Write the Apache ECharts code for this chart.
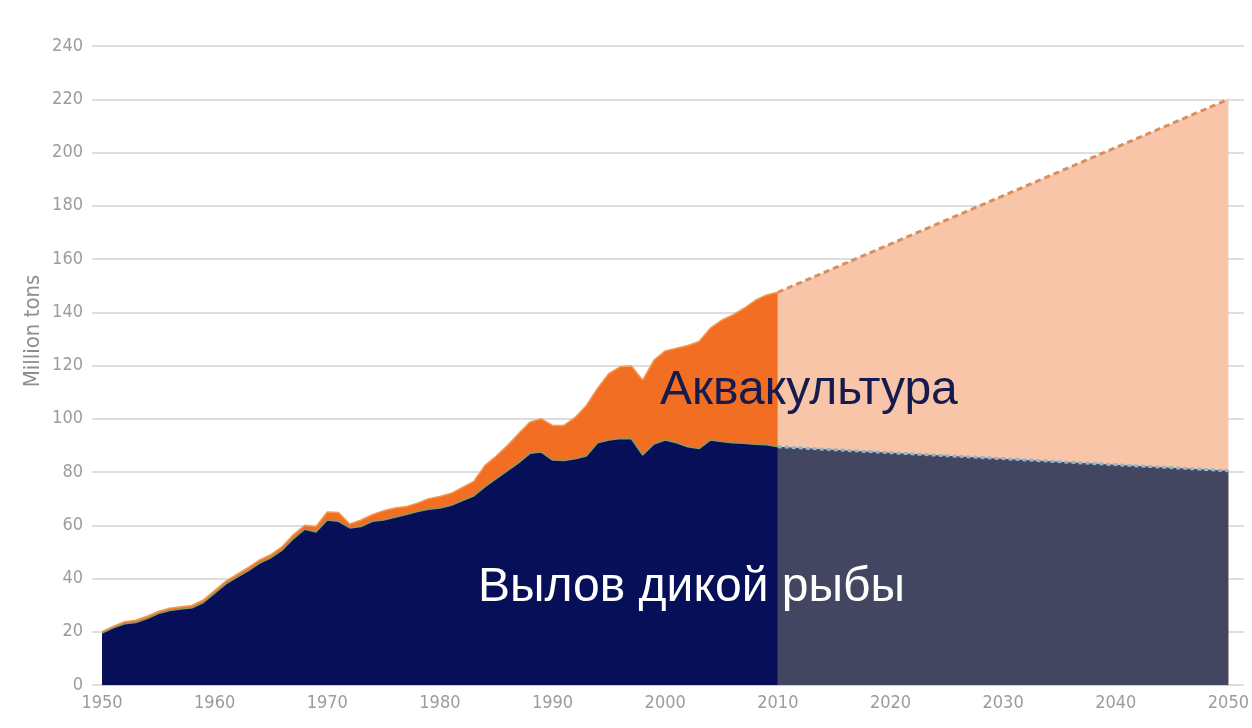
<!DOCTYPE html>
<html>
<head>
<meta charset="utf-8">
<script src="https://cdn.jsdelivr.net/npm/echarts@6/dist/echarts.min.js"></script>
<style>
  html, body { margin: 0; padding: 0; background: #ffffff; }
  #chart { width: 1252px; height: 728px; }
</style>
</head>
<body>
<div id="chart"></div>
<script>
// ---- data (million tons) ----
const years = [1950,1951,1952,1953,1954,1955,1956,1957,1958,1959,
               1960,1961,1962,1963,1964,1965,1966,1967,1968,1969,
               1970,1971,1972,1973,1974,1975,1976,1977,1978,1979,
               1980,1981,1982,1983,1984,1985,1986,1987,1988,1989,
               1990,1991,1992,1993,1994,1995,1996,1997,1998,1999,
               2000,2001,2002,2003,2004,2005,2006,2007,2008,2009,2010];
// wild catch (dark navy area)
const wildCatch = [19.5,21.5,23,23.5,25,26.8,28,28.5,29,31,
                   34.5,38,40.5,43,45.8,47.8,50.7,55,58.5,57.5,
                   62,61.5,59,59.5,61.5,62,63,64,65.2,66,
                   66.5,67.5,69.3,71,74.5,77.5,80.5,83.5,87,87.5,
                   84.5,84.3,85,86,91,92,92.6,92.5,86.4,90.5,
                   92,91,89.5,88.8,92,91.5,91,90.8,90.4,90.2,89.5];
// total production = wild catch + aquaculture (top of orange area)
const totalProduction = [20,22,23.8,24.3,25.8,27.6,28.8,29.4,29.9,32,
                   35.5,39,41.6,44.2,47,49,52,56.5,60,59.5,
                   65,64.8,60.5,62,64,65.5,66.5,67,68.3,70,
                   70.8,72,74.2,76.5,82.5,86,90,94.5,98.8,100,
                   97.5,97.5,100.5,105,111.5,117,119.5,119.8,114.5,122,
                   125.5,126.5,127.5,129,134,137,139,141.5,144.5,146.5,147.5];
// projection 2010 -> 2050
const projYears = [2010, 2050];
const projWild = [89.5, 80.5];
const projTotal = [147.5, 220];

const yTicks = { min: 0, max: 240, step: 20 };
const xTicks = { min: 1950, max: 2050, step: 10 };
const labels = { aqua: 'Аквакультура', wild: 'Вылов дикой рыбы', yName: 'Million tons' };

const pairs = (xs, ys) => xs.map((x, i) => [x, ys[i]]);

const axisFont = '"Liberation Sans Narrow", "DejaVu Sans Condensed", "Liberation Sans", sans-serif';
const labelColor = '#9c9c9c';

const chart = echarts.init(document.getElementById('chart'), null, { renderer: 'canvas' });
chart.setOption({
  animation: false,
  backgroundColor: '#ffffff',
  grid: [
    { left: 92, right: 8, top: 46, bottom: 43 },
    { left: 102, right: 19, top: 46, bottom: 43 }
  ],
  xAxis: [
    { gridIndex: 0, type: 'value', min: 0, max: 1, show: false },
    {
      gridIndex: 1, type: 'value', min: xTicks.min, max: xTicks.max, interval: xTicks.step,
      axisLine: { show: true, lineStyle: { color: '#bcd3e6', width: 1 } },
      axisTick: { show: false },
      splitLine: { show: false },
      axisLabel: { color: labelColor, fontFamily: axisFont, fontSize: 18, margin: 9, formatter: v => String(v) }
    }
  ],
  yAxis: [
    {
      gridIndex: 0, type: 'value', min: yTicks.min, max: yTicks.max, interval: yTicks.step,
      axisLine: { show: false }, axisTick: { show: false },
      splitLine: { show: true, lineStyle: { color: '#dedede', width: 2 } },
      axisLabel: { color: labelColor, fontFamily: axisFont, fontSize: 18, margin: 9, formatter: v => String(v) }
    },
    { gridIndex: 1, type: 'value', min: yTicks.min, max: yTicks.max, show: false }
  ],
  series: [
    {
      name: 'total', type: 'line', xAxisIndex: 1, yAxisIndex: 1,
      data: pairs(years, totalProduction), showSymbol: false, smooth: false,
      lineStyle: { color: '#f59a52', width: 1.5 },
      areaStyle: { color: '#f26e22', opacity: 1 }, z: 2
    },
    {
      name: 'wild', type: 'line', xAxisIndex: 1, yAxisIndex: 1,
      data: pairs(years, wildCatch), showSymbol: false, smooth: false,
      lineStyle: { color: '#8f9a62', width: 1.5 },
      areaStyle: { color: '#060f58', opacity: 1 }, z: 3
    },
    {
      name: 'totalProj', type: 'line', xAxisIndex: 1, yAxisIndex: 1,
      data: pairs(projYears, projTotal), showSymbol: false,
      lineStyle: { color: '#d98f5c', width: 3, type: [6, 4] },
      areaStyle: { color: '#f8c5a8', opacity: 1 }, z: 2
    },
    {
      name: 'wildProj', type: 'line', xAxisIndex: 1, yAxisIndex: 1,
      data: pairs(projYears, projWild), showSymbol: false,
      lineStyle: { color: '#8fb8cc', width: 3, type: [4, 3] },
      areaStyle: { color: '#434661', opacity: 1 }, z: 3
    }
  ],
  graphic: [
    {
      type: 'text', x: 33, y: 331, rotation: Math.PI / 2, z: 100,
      style: { text: labels.yName, fill: '#8e8e8e', font: '22px ' + axisFont, align: 'center', verticalAlign: 'middle' }
    },
    {
      type: 'text', x: 660, y: 391, z: 100,
      style: { text: labels.aqua, fill: '#151a4f', font: '48px "Liberation Sans", Arial, sans-serif', align: 'left', verticalAlign: 'middle' }
    },
    {
      type: 'text', x: 478, y: 588, z: 100,
      style: { text: labels.wild, fill: '#ffffff', font: '48px "Liberation Sans", Arial, sans-serif', align: 'left', verticalAlign: 'middle' }
    }
  ]
});
</script>
</body>
</html>
